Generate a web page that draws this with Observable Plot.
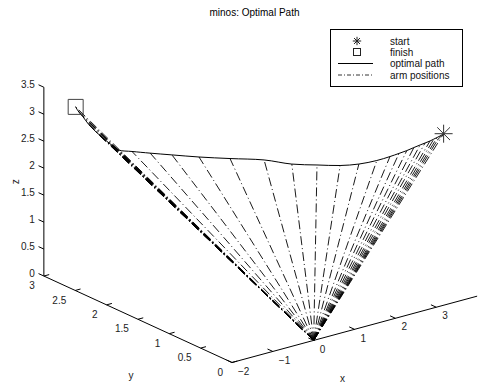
<!DOCTYPE html>
<html><head><meta charset="utf-8">
<script src="https://cdn.jsdelivr.net/npm/d3@7"></script>
<script src="https://cdn.jsdelivr.net/npm/@observablehq/plot@0.6"></script>
<style>
body{margin:0;background:#fff;font-family:"Liberation Sans",Arial,sans-serif;}
#wrap{position:relative;width:481px;height:389px;overflow:hidden;}
#title{position:absolute;left:14px;top:7px;width:481px;text-align:center;font-size:10px;z-index:2;}
#legend{position:absolute;left:330px;top:29px;z-index:2;}
#chart{position:absolute;left:0;top:0;}
</style></head><body>
<div id="wrap"><div id="chart"></div><div id="title">minos: Optimal Path</div><div id="legend"></div></div>
<script>
// ---- data (3-D arm tip path) ----
const pathX = [3.18, 3.10, 3.06, 3.01, 2.96, 2.89, 2.82, 2.71, 2.57, 2.41, 2.22, 1.94, 1.58, 1.26, 0.94, 0.60, 0.33, -0.13, -0.52, -0.83, -1.07, -1.24, -1.34,
  -1.378, -1.412, -1.444, -1.472, -1.498, -1.52, -1.539, -1.555, -1.568, -1.578, -1.585, -1.589, -1.59];
const pathY = [0.00, 0.006, 0.026, 0.046, 0.074, 0.107, 0.14, 0.168, 0.19, 0.21, 0.23, 0.257, 0.309, 0.40, 0.56, 0.74, 1.006, 1.25, 1.49, 1.72, 1.91, 2.09, 2.23,
  2.27, 2.31, 2.36, 2.40, 2.44, 2.48, 2.53, 2.57, 2.61, 2.65, 2.70, 2.73, 2.76];
const pathZ = [3.18, 3.15, 3.12, 3.09, 3.05, 3.01, 2.97, 2.93, 2.89, 2.86, 2.83, 2.80, 2.78, 2.77, 2.76, 2.75, 2.74, 2.73, 2.71, 2.69, 2.67, 2.64, 2.61,
  2.651, 2.684, 2.728, 2.764, 2.811, 2.85, 2.90, 2.942, 2.996, 3.051, 3.097, 3.133, 3.18];
const pivot = [0, 0, 0];
const xLim = [-2, 4], yLim = [0, 3], zLim = [0, 3.5];
const xTicks = [-2, -1, 0, 1, 2, 3];
const yTicks = [0, 0.5, 1, 1.5, 2, 2.5, 3];
const zTicks = [0, 0.5, 1, 1.5, 2, 2.5, 3, 3.5];
const fmt = v => String(v).replace("-", "\u2212");

// ---- view (orthographic, az/el like MATLAB) ----
const W = 481, H = 389;
const view = {az: 37.5, el: 30, cx: 260, cy: 191.2, kx: 309, ky: 218};
const deg = Math.PI / 180;
function project(x, y, z) {
  const X = (x - xLim[0]) / (xLim[1] - xLim[0]) - 0.5;
  const Y = (y - yLim[0]) / (yLim[1] - yLim[0]) - 0.5;
  const Z = (z - zLim[0]) / (zLim[1] - zLim[0]) - 0.5;
  const a = view.az * deg, e = view.el * deg;
  return {h: X * Math.cos(a) - Y * Math.sin(a),
          v: (X * Math.sin(a) + Y * Math.cos(a)) * Math.sin(e) + Z * Math.cos(e)};
}
const path = pathX.map((x, i) => project(x, pathY[i], pathZ[i]));
const o = project(...pivot);
const seg = (p, q) => ({h1: p.h, v1: p.v, h2: q.h, v2: q.v});
const axes = [
  seg(project(xLim[0], yLim[0], zLim[0]), project(xLim[1], yLim[0], zLim[0])),
  seg(project(xLim[0], yLim[0], zLim[0]), project(xLim[0], yLim[1], zLim[0])),
  seg(project(xLim[0], yLim[1], zLim[0]), project(xLim[0], yLim[1], zLim[1]))
];
const tl = 0.085;
const ticks = [
  ...xTicks.map(t => seg(project(t, yLim[0], zLim[0]), project(t, yLim[0] + tl, zLim[0]))),
  ...yTicks.map(t => seg(project(xLim[0], t, zLim[0]), project(xLim[0] + 0.13, t, zLim[0]))),
  ...zTicks.map(t => seg(project(xLim[0], yLim[1], t), project(xLim[0], yLim[1] + tl, t)))
];
const xLab = xTicks.map(t => ({...project(t, yLim[0], zLim[0]), s: fmt(t)}));
const yLab = yTicks.map(t => ({...project(xLim[0], t, zLim[0]), s: fmt(t)}));
const zLab = zTicks.map(t => ({...project(xLim[0], yLim[1], t), s: fmt(t)}));

const asterisk8 = {draw(ctx, size) {
  const r = Math.sqrt(size / Math.PI), d = r * Math.SQRT1_2;
  ctx.moveTo(-r, 0); ctx.lineTo(r, 0); ctx.moveTo(0, -r); ctx.lineTo(0, r);
  ctx.moveTo(-d, -d); ctx.lineTo(d, d); ctx.moveTo(-d, d); ctx.lineTo(d, -d);
}};

const chart = Plot.plot({
  width: W, height: H, margin: 0,
  x: {domain: [-view.cx / view.kx, (W - view.cx) / view.kx], range: [0, W], axis: null},
  y: {domain: [(view.cy - H) / view.ky, view.cy / view.ky], range: [H, 0], axis: null},
  style: {fontFamily: "'Liberation Sans', Arial, sans-serif", fontSize: "10px", background: "transparent"},
  marks: [
    Plot.link(axes, {x1: "h1", y1: "v1", x2: "h2", y2: "v2", stroke: "black", strokeWidth: 1}),
    Plot.link(ticks, {x1: "h1", y1: "v1", x2: "h2", y2: "v2", stroke: "black", strokeWidth: 1}),
    Plot.text(xLab, {x: "h", y: "v", text: "s", textAnchor: "start", dx: 6, dy: 9, fill: "#222"}),
    Plot.text(yLab, {x: "h", y: "v", text: "s", textAnchor: "end", dx: -9, dy: 10, fill: "#222"}),
    Plot.text(zLab, {x: "h", y: "v", text: "s", textAnchor: "end", dx: -9, dy: -2, fill: "#222"}),
    Plot.text([project((xLim[0] + xLim[1]) / 2, yLim[0], zLim[0])], {x: "h", y: "v", text: () => "x", dx: -12, dy: 49, fill: "#222"}),
    Plot.text([project(xLim[0], (yLim[0] + yLim[1]) / 2, zLim[0])], {x: "h", y: "v", text: () => "y", dx: -7, dy: 57, fill: "#222"}),
    Plot.text([project(xLim[0], yLim[1], (zLim[0] + zLim[1]) / 2)], {x: "h", y: "v", text: () => "z", dx: -28, dy: 0, rotate: -90, fill: "#222"}),
    Plot.link(path, {x1: () => o.h, y1: () => o.v, x2: "h", y2: "v", stroke: "black", strokeWidth: 0.9, strokeDasharray: "9,3,1,3"}),
    Plot.line(path, {x: "h", y: "v", stroke: "black", strokeWidth: 1, curve: "catmull-rom"}),
    Plot.dot([path[0]], {x: "h", y: "v", symbol: asterisk8, r: 9, stroke: "#333", strokeWidth: 1}),
    Plot.dot([path[path.length - 1]], {x: "h", y: "v", symbol: "square", r: 8.46, stroke: "#444", strokeWidth: 1, fill: "none"})
  ]
});
document.getElementById("chart").appendChild(chart);

// ---- legend ----
const legendItems = ["start", "finish", "optimal path", "arm positions"];
const lw = 133, lh = 58;
const lsvg = d3.create("svg").attr("width", lw).attr("height", lh)
  .style("font-family", "'Liberation Sans', Arial, sans-serif").style("font-size", "10px");
lsvg.append("rect").attr("x", 0.5).attr("y", 0.5).attr("width", lw - 1).attr("height", lh - 1).attr("fill", "white").attr("stroke", "black");
const rows = [12, 23, 34.5, 46];
const sx = 27;
const rr = 4.2, dd = rr * Math.SQRT1_2;
lsvg.append("path").attr("d", `M${sx - rr},${rows[0]}H${sx + rr}M${sx},${rows[0] - rr}V${rows[0] + rr}M${sx - dd},${rows[0] - dd}L${sx + dd},${rows[0] + dd}M${sx - dd},${rows[0] + dd}L${sx + dd},${rows[0] - dd}`).attr("stroke", "#222").attr("fill", "none");
lsvg.append("rect").attr("x", sx - 3.5).attr("y", rows[1] - 3.5).attr("width", 7).attr("height", 7).attr("fill", "none").attr("stroke", "#222");
lsvg.append("line").attr("x1", 8).attr("x2", 43).attr("y1", rows[2]).attr("y2", rows[2]).attr("stroke", "black");
lsvg.append("line").attr("x1", 8).attr("x2", 43).attr("y1", rows[3]).attr("y2", rows[3]).attr("stroke", "black").attr("stroke-width", 0.8).attr("stroke-dasharray", "4,2,1,2");
legendItems.forEach((t, i) => lsvg.append("text").attr("x", 60).attr("y", rows[i]).attr("dy", "0.35em").attr("fill", "#111").text(t));
document.getElementById("legend").appendChild(lsvg.node());
</script></body></html>
